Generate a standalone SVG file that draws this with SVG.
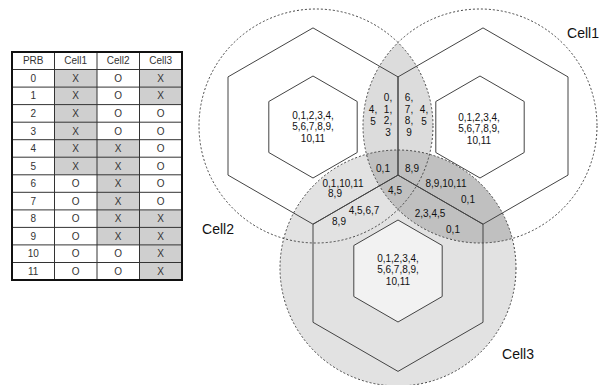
<svg xmlns="http://www.w3.org/2000/svg" width="610" height="385" viewBox="0 0 610 385">
<style>
.t{font-family:"Liberation Sans",Arial,sans-serif;font-size:10px;fill:#111;text-anchor:middle}
.tb{font-family:"Liberation Sans",Arial,sans-serif;font-size:10px;fill:#333;text-anchor:middle}
.lbl{font-family:"Liberation Sans",Arial,sans-serif;font-size:14px;fill:#111;text-anchor:middle}
.hex{fill:none;stroke:#444;stroke-width:1}
.circ{fill:none;stroke:#444;stroke-width:1;stroke-dasharray:2,2}
.grid{stroke:#333;stroke-width:1}
.sh{fill:#cfcfcf}
</style>
<defs>
<clipPath id="clipC1"><circle cx="480" cy="126" r="117"/></clipPath>
<clipPath id="clipC2"><circle cx="316" cy="126" r="117"/></clipPath>
</defs>
<rect width="610" height="385" fill="#fff"/>

<g id="table">
<rect class="sh" x="54.5" y="69.5" width="42.5" height="105.2"/>
<rect class="sh" x="97" y="139.7" width="42.5" height="105.2"/>
<rect class="sh" x="139.5" y="69.5" width="42.5" height="35.1"/>
<rect class="sh" x="139.5" y="209.9" width="42.5" height="70.1"/>
<g class="grid">
<line x1="54.5" y1="52" x2="54.5" y2="280"/>
<line x1="97" y1="52" x2="97" y2="280"/>
<line x1="139.5" y1="52" x2="139.5" y2="280"/>
<line x1="12" y1="69.5" x2="182" y2="69.5"/>
<line x1="12" y1="87.1" x2="182" y2="87.1"/>
<line x1="12" y1="104.6" x2="182" y2="104.6"/>
<line x1="12" y1="122.2" x2="182" y2="122.2"/>
<line x1="12" y1="139.7" x2="182" y2="139.7"/>
<line x1="12" y1="157.2" x2="182" y2="157.2"/>
<line x1="12" y1="174.8" x2="182" y2="174.8"/>
<line x1="12" y1="192.3" x2="182" y2="192.3"/>
<line x1="12" y1="209.9" x2="182" y2="209.9"/>
<line x1="12" y1="227.4" x2="182" y2="227.4"/>
<line x1="12" y1="244.9" x2="182" y2="244.9"/>
<line x1="12" y1="262.5" x2="182" y2="262.5"/>
</g>
<rect x="12" y="52" width="170" height="228" fill="none" stroke="#111" stroke-width="2"/>
<g class="tb">
<text x="33.2" y="64.3">PRB</text><text x="75.7" y="64.3">Cell1</text><text x="118.2" y="64.3">Cell2</text><text x="160.7" y="64.3">Cell3</text>
<text x="33.2" y="81.8">0</text><text x="75.7" y="81.8">X</text><text x="118.2" y="81.8">O</text><text x="160.7" y="81.8">X</text>
<text x="33.2" y="99.4">1</text><text x="75.7" y="99.4">X</text><text x="118.2" y="99.4">O</text><text x="160.7" y="99.4">X</text>
<text x="33.2" y="116.9">2</text><text x="75.7" y="116.9">X</text><text x="118.2" y="116.9">O</text><text x="160.7" y="116.9">O</text>
<text x="33.2" y="134.5">3</text><text x="75.7" y="134.5">X</text><text x="118.2" y="134.5">O</text><text x="160.7" y="134.5">O</text>
<text x="33.2" y="152">4</text><text x="75.7" y="152">X</text><text x="118.2" y="152">X</text><text x="160.7" y="152">O</text>
<text x="33.2" y="169.5">5</text><text x="75.7" y="169.5">X</text><text x="118.2" y="169.5">X</text><text x="160.7" y="169.5">O</text>
<text x="33.2" y="187.1">6</text><text x="75.7" y="187.1">O</text><text x="118.2" y="187.1">X</text><text x="160.7" y="187.1">O</text>
<text x="33.2" y="204.6">7</text><text x="75.7" y="204.6">O</text><text x="118.2" y="204.6">X</text><text x="160.7" y="204.6">O</text>
<text x="33.2" y="222.2">8</text><text x="75.7" y="222.2">O</text><text x="118.2" y="222.2">X</text><text x="160.7" y="222.2">X</text>
<text x="33.2" y="239.7">9</text><text x="75.7" y="239.7">O</text><text x="118.2" y="239.7">X</text><text x="160.7" y="239.7">X</text>
<text x="33.2" y="257.2">10</text><text x="75.7" y="257.2">O</text><text x="118.2" y="257.2">O</text><text x="160.7" y="257.2">X</text>
<text x="33.2" y="274.8">11</text><text x="75.7" y="274.8">O</text><text x="118.2" y="274.8">O</text><text x="160.7" y="274.8">X</text>
</g>
</g>

<g id="shading">
<circle cx="398" cy="268" r="118" fill="#e2e2e2"/>
<circle cx="316" cy="126" r="117" fill="#dcdcdc" clip-path="url(#clipC1)"/>
<circle cx="398" cy="268" r="118" fill="#c0c0c0" clip-path="url(#clipC1)"/>
<polygon points="398,220 442.2,245.5 442.2,296.5 398,322 353.8,296.5 353.8,245.5" fill="#f2f2f2"/>
</g>

<g id="cell2">
<polygon class="hex" points="313,27.9 398,76.9 398,175.1 313,224.2 228,175.1 228,76.9"/>
<polygon class="hex" points="313,76 357.2,101.5 357.2,152.5 313,178 268.8,152.5 268.8,101.5"/>
<circle class="circ" cx="316" cy="126" r="117"/>
<text class="t" x="313" y="118.5">0,1,2,3,4,</text>
<text class="t" x="313" y="130">5,6,7,8,9,</text>
<text class="t" x="313" y="141.5">10,11</text>
<text class="lbl" x="218" y="234">Cell2</text>
</g>

<g id="cell1">
<polygon class="hex" points="483,27.9 568,76.9 568,175.1 483,224.2 398,175.1 398,76.9"/>
<polygon class="hex" points="480,76 524.2,101.5 524.2,152.5 480,178 435.8,152.5 435.8,101.5"/>
<circle class="circ" cx="480" cy="126" r="117"/>
<text class="t" x="479" y="120.5">0,1,2,3,4,</text>
<text class="t" x="479" y="132">5,6,7,8,9,</text>
<text class="t" x="479" y="143.5">10,11</text>
<text class="lbl" x="583" y="38">Cell1</text>
</g>

<g id="cell3">
<polygon class="hex" points="398,175.1 483,224.2 483,322.3 398,371.4 313,322.3 313,224.2"/>
<polygon class="hex" points="398,220 442.2,245.5 442.2,296.5 398,322 353.8,296.5 353.8,245.5"/>
<circle class="circ" cx="398" cy="268" r="118"/>
<text class="t" x="398" y="261.5">0,1,2,3,4,</text>
<text class="t" x="398" y="273">5,6,7,8,9,</text>
<text class="t" x="398" y="284.5">10,11</text>
<text class="lbl" x="518" y="359">Cell3</text>
</g>

<g id="overlap-labels" class="t">
<text x="388" y="101">0,</text><text x="388" y="112.5">1,</text><text x="388" y="124">2,</text><text x="388" y="135.5">3</text>
<text x="373" y="113">4,</text><text x="373" y="124.5">5</text>
<text x="409" y="101">6,</text><text x="409" y="112.5">7,</text><text x="409" y="124">8,</text><text x="409" y="135.5">9</text>
<text x="424" y="113">4,</text><text x="424" y="124.5">5</text>
<text x="383" y="171.5">0,1</text><text x="412" y="171.5">8,9</text>
<text x="343" y="186.5">0,1,10,11</text><text x="335" y="197">8,9</text>
<text x="395" y="193.5">4,5</text>
<text x="446" y="186.5">8,9,10,11</text><text x="468" y="203">0,1</text>
<text x="364" y="214">4,5,6,7</text><text x="339" y="224.5">8,9</text>
<text x="430" y="216.5">2,3,4,5</text><text x="453" y="232.5">0,1</text>
</g>
</svg>
